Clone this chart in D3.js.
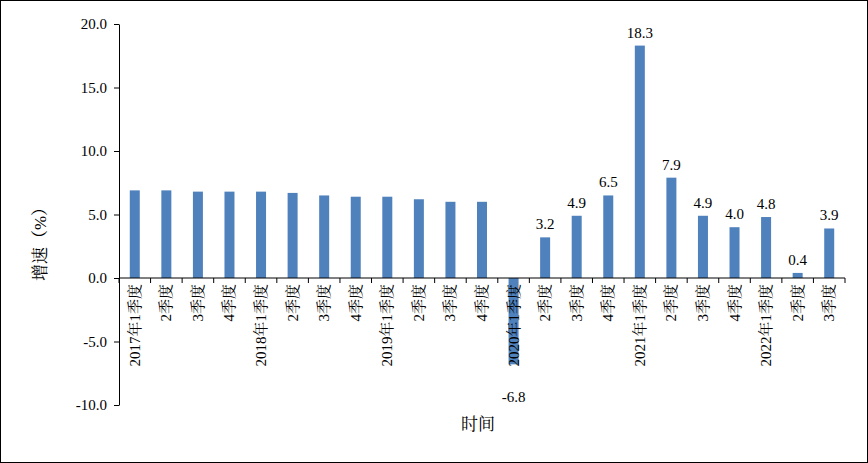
<!DOCTYPE html>
<html><head><meta charset="utf-8">
<script src="https://cdn.jsdelivr.net/npm/d3@7"></script>
<style>body{margin:0;background:#fff}text{font-family:"Liberation Serif","Times New Roman","Noto Serif CJK SC","Noto Sans CJK SC",serif}</style>
</head><body><svg id="c" width="868" height="463"></svg>
<script>
const categories=["2017年1季度","2季度","3季度","4季度","2018年1季度","2季度","3季度","4季度","2019年1季度","2季度","3季度","4季度","2020年1季度","2季度","3季度","4季度","2021年1季度","2季度","3季度","4季度","2022年1季度","2季度","3季度"];
const values=[6.9,6.9,6.8,6.8,6.8,6.7,6.5,6.4,6.4,6.2,6.0,6.0,-6.8,3.2,4.9,6.5,18.3,7.9,4.9,4.0,4.8,0.4,3.9];
const showLabel=[0,0,0,0,0,0,0,0,0,0,0,0,1,1,1,1,1,1,1,1,1,1,1];
const yTicks=[-10,-5,0,5,10,15,20];
const fmt=d=>d3.format(".1f")(d).replace("\u2212","-");
const svg=d3.select("#c");
svg.append("rect").attr("x",0.5).attr("y",0.5).attr("width",867).attr("height",462).attr("fill","#fff").attr("stroke","#000");
const L=119,R=845,T=24,B=405;
const x=d3.scaleBand().domain(categories.map((c,i)=>i)).range([L,R]);
const y=d3.scaleLinear().domain([-10,20]).range([B,T]);
const col="#4f81bd";
svg.append("g").selectAll("rect").data(values).join("rect")
 .attr("x",(d,i)=>x(i)+x.bandwidth()/2-5).attr("width",10)
 .attr("y",d=>y(Math.max(0,d))).attr("height",d=>Math.abs(y(d)-y(0))).attr("fill",col);
const ya=svg.append("g").attr("transform",`translate(${L},0)`).call(d3.axisLeft(y).tickValues(yTicks).tickFormat(fmt).tickSize(5).tickSizeOuter(0));
ya.selectAll("text").attr("font-size",15).attr("font-family","Liberation Serif").attr("dx",-4);
ya.select(".domain").attr("stroke","#000");
const xa=svg.append("g").attr("transform",`translate(0,${y(0)})`);
xa.append("line").attr("x1",L).attr("x2",R).attr("stroke","#000");
xa.selectAll("line.t").data(d3.range(categories.length+1)).join("line").attr("class","t")
 .attr("x1",i=>L+i*x.step()).attr("x2",i=>L+i*x.step()).attr("y1",0).attr("y2",5).attr("stroke","#000");
xa.selectAll("text").data(categories).join("text")
 .attr("transform",(d,i)=>`translate(${x(i)+x.bandwidth()/2+5},6) rotate(-90)`)
 .attr("text-anchor","end").attr("font-size",15).text(d=>d);
svg.append("g").selectAll("text").data(values.map((v,i)=>({v,i})).filter(d=>showLabel[d.i])).join("text")
 .attr("x",d=>x(d.i)+x.bandwidth()/2).attr("y",d=>d.v>=0?y(d.v)-8:y(d.v)+38)
 .attr("text-anchor","middle").attr("font-size",15).text(d=>fmt(d.v));
svg.append("text").attr("transform","translate(46,240) rotate(-90)").attr("text-anchor","middle").attr("font-size",17).text("增速（%）");
svg.append("text").attr("x",478).attr("y",430).attr("text-anchor","middle").attr("font-size",17).text("时间");
</script></body></html>
